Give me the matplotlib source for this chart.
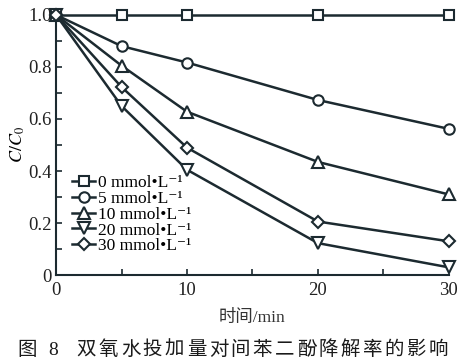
import numpy as np
import matplotlib
matplotlib.use("Agg")
import matplotlib.pyplot as plt
from matplotlib.ticker import MultipleLocator

plt.rcParams["font.family"] = ["Liberation Serif", "DejaVu Serif", "Noto Sans CJK SC"]
plt.rcParams["mathtext.fontset"] = "stix"

# data
time_min = [0, 5, 10, 20, 30]
dose_labels = ["0", "5", "10", "20", "30"]
ratio_0 = [1.0, 1.0, 1.0, 1.0, 1.0]
ratio_5 = [1.0, 0.88, 0.817, 0.673, 0.562]
ratio_10 = [1.0, 0.805, 0.628, 0.435, 0.31]
ratio_20 = [1.0, 0.65, 0.405, 0.123, 0.03]
ratio_30 = [1.0, 0.723, 0.49, 0.206, 0.13]
series = [ratio_0, ratio_5, ratio_10, ratio_20, ratio_30]
markers = ["s", "o", "^", "v", "D"]
sizes = [6.5, 7.5, 8, 8, 6.5]

col = "#1c2a30"

fig = plt.figure(figsize=(4.71, 3.63), dpi=100)
ax = fig.add_axes([0.119, 0.242, 0.834, 0.717])

for vals, mk, ms, lab in zip(series, markers, sizes, dose_labels):
    ax.plot(time_min, vals, color=col, lw=1.8, marker=mk, ms=ms,
            mfc="white", mec=col, mew=1.5, clip_on=False, zorder=3,
            label=lab + " mmol\u2022L\u207b\u00b9")

ax.set_xlim(0, 30)
ax.set_ylim(0, 1.0)
ax.xaxis.set_major_locator(MultipleLocator(10))
ax.xaxis.set_minor_locator(MultipleLocator(5))
ax.yaxis.set_minor_locator(MultipleLocator(0.1))
ax.set_yticks([0, 0.2, 0.4, 0.6, 0.8, 1.0])
ax.set_yticklabels(["0", "0.2", "0.4", "0.6", "0.8", "1.0"])
ax.tick_params(which="both", direction="in", length=4, width=1.2, color=col,
               labelsize=13.5, labelcolor="#222222")
ax.tick_params(axis="x", pad=5)
ax.tick_params(axis="y", pad=3)

for s in ["top", "right"]:
    ax.spines[s].set_visible(False)
for s in ["left", "bottom"]:
    ax.spines[s].set_linewidth(1.5)
    ax.spines[s].set_color(col)

ax.set_ylabel(r"$C/C_0$", fontsize=13, labelpad=1)
ax.set_xlabel("时间/min", fontsize=12.5, labelpad=8, color="#333333")

leg = ax.legend(loc="upper left", bbox_to_anchor=(0.015, 0.425), frameon=False,
                fontsize=12.5, handlelength=1.3, handletextpad=0.2,
                labelspacing=-0.02, borderpad=0.1)

fig.text(0.036, 0.022, "图", fontsize=14, family=["Noto Sans CJK SC"], color="#1a1a1a")
fig.text(0.103, 0.022, "8", fontsize=14, family=["Liberation Serif"], color="#1a1a1a")
rest = "双氧水投加量对间苯二酚降解率的影响"
for i, ch in enumerate(rest):
    fig.text(0.163 + i * 0.0467, 0.022, ch, fontsize=14,
             family=["Noto Sans CJK SC"], color="#1a1a1a")

fig.savefig("out.png", dpi=100)
